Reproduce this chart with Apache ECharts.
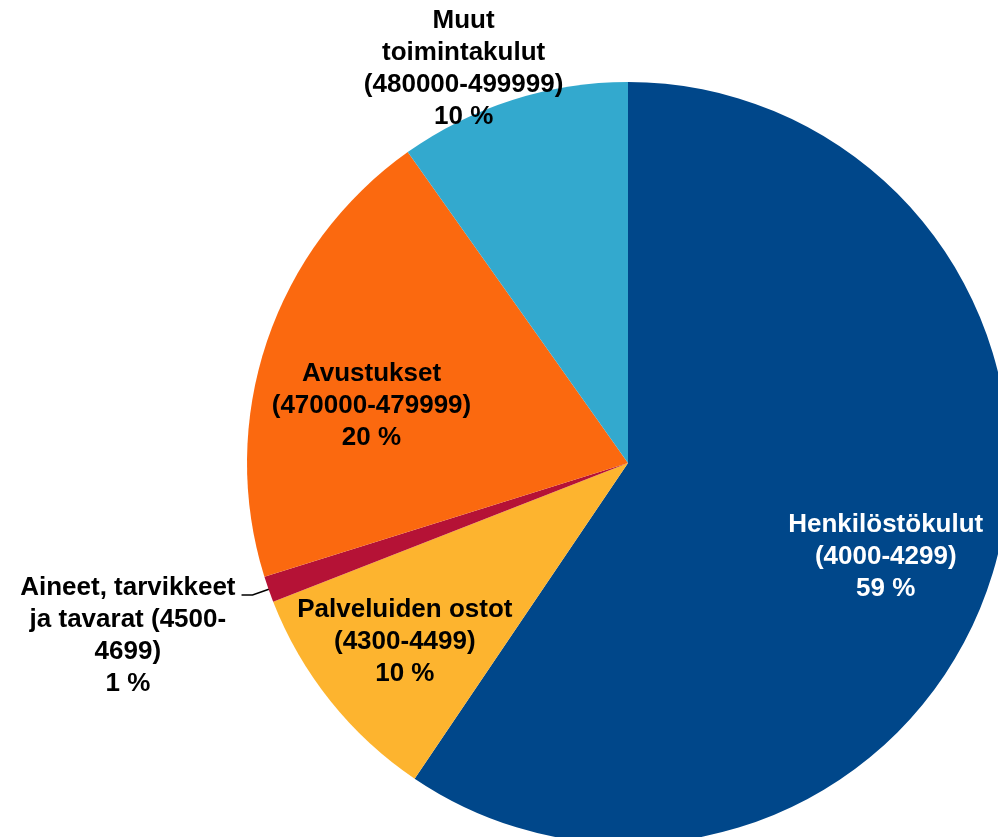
<!DOCTYPE html>
<html>
<head>
<meta charset="utf-8">
<script src="https://cdn.jsdelivr.net/npm/echarts@6/dist/echarts.min.js"></script>
<style>
  html, body { margin: 0; padding: 0; background: #fff; }
  #chart { width: 998px; height: 837px; }
</style>
</head>
<body>
<div id="chart"></div>
<script>
  // slice names (line breaks as in the original labels)
  var categories = [
    'Henkilöstökulut\n(4000-4299)',
    'Palveluiden ostot\n(4300-4499)',
    'Aineet, tarvikkeet\nja tavarat (4500-\n4699)',
    'Avustukset\n(470000-479999)',
    'Muut\ntoimintakulut\n(480000-499999)'
  ];
  // share of costs, %
  var values = [59.4, 9.6, 1.1, 20.0, 9.8];
  var colors = ['#00478a', '#fdb42f', '#b51236', '#fb690f', '#33a9ce'];

  // label placement: [radius factor, angle shift in degrees]
  var labelPlace = [[0.72, 3], [0.75, 0], null, [0.69, -6], [1.12, -5]];

  var cx = 628, cy = 463, R = 381;
  var total = values.reduce(function (a, b) { return a + b; }, 0);

  function midAngle(i) {
    var before = 0;
    for (var k = 0; k < i; k++) before += values[k];
    return (before + values[i] / 2) / total * 360;
  }
  function pointAt(deg, r) {
    var a = deg * Math.PI / 180;
    return [cx + r * Math.sin(a), cy - r * Math.cos(a)];
  }

  var font = {
    fontFamily: 'Liberation Sans, Arial, sans-serif',
    fontWeight: 'bold',
    fontSize: 26,
    lineHeight: 32
  };

  var chart = echarts.init(document.getElementById('chart'));
  chart.setOption({
    animation: false,
    series: [{
      type: 'pie',
      center: [cx, cy],
      radius: R,
      startAngle: 90,
      clockwise: true,
      avoidLabelOverlap: false,
      itemStyle: { borderWidth: 0 },
      emphasis: { disabled: true },
      label: Object.assign({
        position: 'inside',
        color: '#000',
        formatter: function (p) {
          return p.name + '\n' + Math.round(p.percent) + ' %';
        }
      }, font),
      labelLine: { show: false },
      labelLayout: function (params) {
        var i = params.dataIndex;
        var mid = midAngle(i);
        if (i === 2) {
          var p1 = pointAt(mid, R - 1);
          var p2 = pointAt(mid, R + 17);
          var p3 = [p2[0] - 11, p2[1]];
          var w = params.labelRect.width, h = params.labelRect.height;
          return {
            x: p3[0] - 6 - w / 2,
            y: p3[1] - 23 + h / 2,
            align: 'center',
            verticalAlign: 'middle',
            labelLinePoints: [p1, p2, p3]
          };
        }
        var pl = labelPlace[i];
        var pt = pointAt(mid + pl[1], R * pl[0]);
        return { x: pt[0], y: pt[1], align: 'center', verticalAlign: 'middle' };
      },
      data: categories.map(function (name, i) {
        var item = { name: name, value: values[i], itemStyle: { color: colors[i] } };
        if (i === 0) item.label = { color: '#fff' };
        if (i === 2) {
          item.label = { position: 'outside' };
          item.labelLine = { show: true, lineStyle: { color: '#000', width: 1.5 } };
        }
        if (i === 4) item.label = { position: 'outside' };
        return item;
      })
    }]
  });
</script>
</body>
</html>
